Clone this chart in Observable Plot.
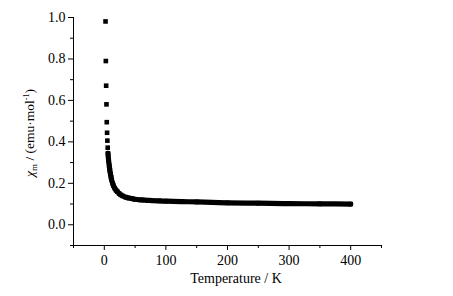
<!DOCTYPE html>
<html>
<head>
<meta charset="utf-8">
<script src="https://cdn.jsdelivr.net/npm/d3@7"></script>
<script src="https://cdn.jsdelivr.net/npm/@observablehq/plot@0.6"></script>
<style>
  html, body { margin: 0; padding: 0; background: #fff; }
  svg text { font-family: "Liberation Serif", "Times New Roman", serif; }
</style>
</head>
<body>
<div id="chart"></div>
<script>
// Low-temperature isolated points
const lowT = [2, 2.5, 3, 3.5, 4, 4.5, 5, 5.5];
const lowChi = [0.981, 0.790, 0.671, 0.581, 0.495, 0.444, 0.406, 0.372];

// Dense measured curve
const curveT = [6, 7, 8, 9, 10, 11, 12, 13.5, 15, 17, 19, 21, 24, 27, 30, 35, 40, 45, 50, 60, 70, 80, 90, 100, 125, 150, 175, 200, 250, 300, 350, 400];
const curveChi = [0.345, 0.310, 0.285, 0.263, 0.245, 0.229, 0.216, 0.200, 0.188, 0.176, 0.167, 0.160, 0.151, 0.144, 0.139, 0.133, 0.129, 0.126, 0.123, 0.120, 0.118, 0.116, 0.115, 0.114, 0.112, 0.110, 0.108, 0.106, 0.104, 0.102, 0.101, 0.100];

const xMajor = [0, 100, 200, 300, 400];
const xMinor = [-50, 50, 150, 250, 350, 450];
const yMajor = [0.0, 0.2, 0.4, 0.6, 0.8, 1.0];
const yMinor = [-0.1, 0.1, 0.3, 0.5, 0.7, 0.9];

const lowData = lowT.map((t, i) => ({T: t, chi: lowChi[i]}));
const curveData = curveT.map((t, i) => ({T: t, chi: curveChi[i]}));

const plot = Plot.plot({
  width: 453,
  height: 296,
  marginLeft: 73,
  marginRight: 72,
  marginTop: 17,
  marginBottom: 51,
  style: {fontFamily: "Liberation Serif", fontSize: "14px", background: "#fff", color: "#000"},
  x: {domain: [-50, 450]},
  y: {domain: [-0.1, 1.0]},
  marks: [
    Plot.axisX({ticks: xMajor, tickSize: 5, tickPadding: 5, label: null, tickFormat: d3.format("d"), fontSize: 14}),
    Plot.axisX({ticks: xMinor, tickSize: 3, tickFormat: () => "", label: null}),
    Plot.axisY({ticks: yMajor, tickSize: 5, tickPadding: 3, label: null, tickFormat: d3.format(".1f"), fontSize: 14}),
    Plot.axisY({ticks: yMinor, tickSize: 3, tickFormat: () => "", label: null}),
    Plot.ruleY([-0.1], {stroke: "#000", strokeWidth: 1}),
    Plot.ruleX([-50], {stroke: "#000", strokeWidth: 1}),
    Plot.line(curveData, {x: "T", y: "chi", curve: "monotone-x", stroke: "#000", strokeWidth: 5.2}),
    Plot.dot(curveData, {x: "T", y: "chi", symbol: "square", r: 2.6, fill: "#000", stroke: null}),
    Plot.dot(lowData, {x: "T", y: "chi", symbol: "square", r: 2.6, fill: "#000", stroke: null})
  ]
});

document.getElementById("chart").appendChild(plot);

const svg = d3.select(plot);
// x axis title
svg.append("text")
  .attr("x", 236).attr("y", 283)
  .attr("text-anchor", "middle")
  .attr("font-size", 14)
  .attr("fill", "#000")
  .text("Temperature / K");

// y axis title with subscript and superscript
const yl = svg.append("text")
  .attr("transform", "translate(34,133) rotate(-90)")
  .attr("text-anchor", "middle")
  .attr("font-size", 13.5)
  .attr("fill", "#000");
yl.append("tspan").attr("font-style", "italic").text("χ");
yl.append("tspan").attr("font-size", 9).attr("dy", 3).text("m");
yl.append("tspan").attr("dy", -3).text(" / (emu·mol");
yl.append("tspan").attr("font-size", 8).attr("dy", -5).text("-1");
yl.append("tspan").attr("dy", 5).text(")");
</script>
</body>
</html>
